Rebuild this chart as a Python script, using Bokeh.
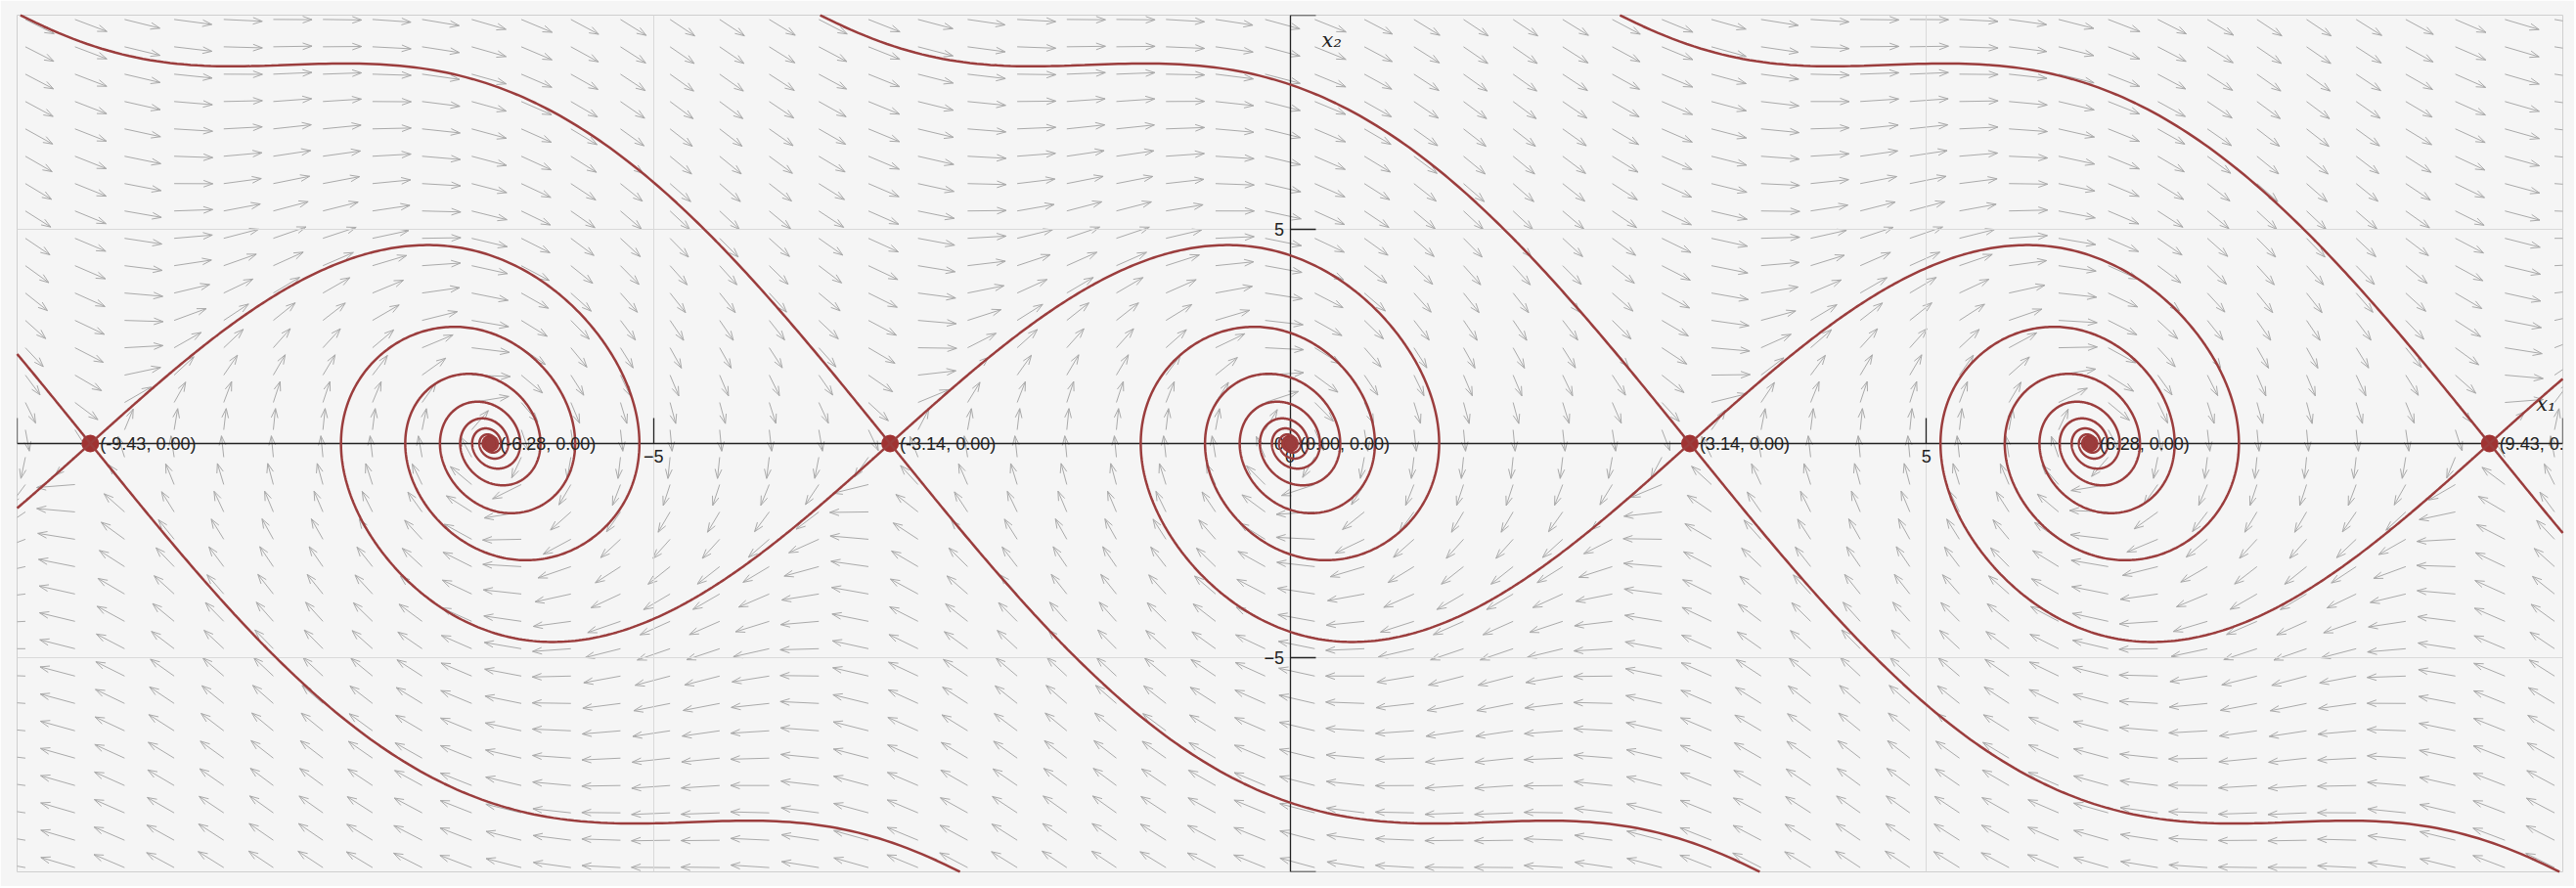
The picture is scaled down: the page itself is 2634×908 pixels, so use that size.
import math
import numpy as np
from bokeh.plotting import figure
from bokeh.models import Range1d, FixedTicker, ColumnDataSource, Label, LabelSet
from bokeh.embed import file_html
from bokeh.resources import INLINE
from bokeh.core.properties import value

# ---- system: damped pendulum x1' = x2, x2' = -g sin(x1) - b x2
g_coef = 9.81
b_coef = 1.0

# ---- fixed points shown in the chart
fixed_x1 = [-9.4248, -6.2832, -3.1416, 0.0, 3.1416, 6.2832, 9.4248]
fixed_x2 = [0.0, 0.0, 0.0, 0.0, 0.0, 0.0, 0.0]
fixed_kind = ["saddle", "center", "saddle", "center", "saddle", "center", "saddle"]
fixed_labels = ["(-9.43, 0.00)", "(-6.28, 0.00)", "(-3.14, 0.00)", "(0.00, 0.00)",
                "(3.14, 0.00)", "(6.28, 0.00)", "(9.43, 0.00)"]

# ---- direction-field grid
field_x1 = np.linspace(-9.935, 9.935, 52)
field_x2 = np.linspace(-9.9, 9.9, 32)
arrow_fill = 0.78

# ---- axis ticks
axis_ticks = [-10, -5, 0, 5, 10]
grid_ticks = [-5, 5]
tick_overrides = {-10: "", 10: ""}

X_MIN, X_MAX, Y_MIN, Y_MAX = -10, 10, -10, 10
FRAME_W, FRAME_H = 2603, 876


def rhs(a, c):
    return c, -g_coef * math.sin(a) - b_coef * c


def refine(x):
    # exact equilibrium of the system near x (sin x = 0)
    for _ in range(6):
        x -= math.sin(x) / math.cos(x)
    return x


def integrate(a, c, sign, t_max, dt=0.002, keep=3):
    xs, ys = [a], [c]
    h = dt * sign
    n = int(t_max / dt)
    for i in range(n):
        pa, pc = a, c
        k1a, k1c = rhs(a, c)
        k2a, k2c = rhs(a + 0.5 * h * k1a, c + 0.5 * h * k1c)
        k3a, k3c = rhs(a + 0.5 * h * k2a, c + 0.5 * h * k2c)
        k4a, k4c = rhs(a + h * k3a, c + h * k3c)
        a += h / 6.0 * (k1a + 2 * k2a + 2 * k3a + k4a)
        c += h / 6.0 * (k1c + 2 * k2c + 2 * k3c + k4c)
        if a < X_MIN or a > X_MAX or c < Y_MIN or c > Y_MAX:
            f = 1.0
            if a > X_MAX:
                f = min(f, (X_MAX - pa) / (a - pa))
            if a < X_MIN:
                f = min(f, (X_MIN - pa) / (a - pa))
            if c > Y_MAX:
                f = min(f, (Y_MAX - pc) / (c - pc))
            if c < Y_MIN:
                f = min(f, (Y_MIN - pc) / (c - pc))
            xs.append(pa)
            ys.append(pc)
            xs.append(pa + f * (a - pa))
            ys.append(pc + f * (c - pc))
            break
        if i % keep == 0:
            xs.append(a)
            ys.append(c)
    return xs, ys


# separatrices of every saddle
disc = math.sqrt(b_coef ** 2 + 4 * g_coef)
lam_u = (-b_coef + disc) / 2.0
lam_s = (-b_coef - disc) / 2.0
eps = 1e-6
traj = []
for fx, fy, kind in zip(fixed_x1, fixed_x2, fixed_kind):
    if kind != "saddle":
        continue
    ex = refine(fx)
    for lam, sign, tmax in ((lam_u, 1.0, 24.0), (lam_s, -1.0, 8.0)):
        nrm = math.hypot(1.0, lam)
        for s in (1.0, -1.0):
            a0 = ex + s * eps / nrm
            c0 = fy + s * eps * lam / nrm
            xs, ys = integrate(a0, c0, sign, tmax)
            traj.append(([ex] + xs, [fy] + ys))

# direction field arrows (direction of the flow, sized to the grid cell)
X1, X2 = np.meshgrid(field_x1, field_x2)
U = X2
V = -g_coef * np.sin(X1) - b_coef * X2
dxg = field_x1[1] - field_x1[0]
dyg = field_x2[1] - field_x2[0]
N = np.sqrt((U / dxg) ** 2 + (V / dyg) ** 2)
N[N == 0] = 1.0
x0 = X1.ravel()
y0 = X2.ravel()
xe = (X1 + arrow_fill * U / N).ravel()
ye = (X2 + arrow_fill * V / N).ravel()

# arrow heads built in screen space from the plot scale
sx = FRAME_W / (X_MAX - X_MIN)
sy = FRAME_H / (Y_MAX - Y_MIN)
dpx = (xe - x0) * sx
dpy = (ye - y0) * sy
L = np.hypot(dpx, dpy)
L[L == 0] = 1.0
ux, uy = dpx / L, dpy / L
head_len, head_w = 9.5, 3.4
bx1 = xe + (-head_len * ux - head_w * uy) / sx
by1 = ye + (-head_len * uy + head_w * ux) / sy
bx2 = xe + (-head_len * ux + head_w * uy) / sx
by2 = ye + (-head_len * uy - head_w * ux) / sy
head_xs = [[a, b, c] for a, b, c in zip(bx1, xe, bx2)]
head_ys = [[a, b, c] for a, b, c in zip(by1, ye, by2)]

BG = "#f5f5f5"
p = figure(x_range=Range1d(X_MIN, X_MAX), y_range=Range1d(Y_MIN, Y_MAX),
           frame_width=FRAME_W, frame_height=FRAME_H,
           min_border_left=17, min_border_right=12, min_border_top=15, min_border_bottom=15,
           output_backend="svg", toolbar_location=None)
p.background_fill_color = BG
p.border_fill_color = BG
p.outline_line_color = "#cfcfcf"
p.outline_line_width = 1

p.xgrid.ticker = FixedTicker(ticks=grid_ticks)
p.ygrid.ticker = FixedTicker(ticks=grid_ticks)
p.grid.grid_line_color = "#d9d9d9"
p.grid.grid_line_width = 1

for ax in (p.xaxis[0], p.yaxis[0]):
    ax.fixed_location = 0
    ax.ticker = FixedTicker(ticks=axis_ticks)
    ax.major_label_overrides = tick_overrides
    ax.minor_tick_line_color = None
    ax.major_tick_in = 26
    ax.major_tick_out = 0
    ax.axis_line_color = "#222222"
    ax.axis_line_width = 1.3
    ax.major_tick_line_color = "#222222"
    ax.major_tick_line_width = 1.3
    ax.major_label_text_font = "Liberation Sans"
    ax.major_label_text_font_size = "18px"
    ax.major_label_text_color = "#222222"
    ax.major_label_standoff = 6

ARROW_C = "#aaaaaa"
p.segment(x0=x0, y0=y0, x1=xe, y1=ye, line_color=ARROW_C, line_width=1, level="underlay")
p.multi_line(head_xs, head_ys, line_color=ARROW_C, line_width=1, level="underlay")

p.scatter(fixed_x1, fixed_x2, size=18, fill_color="#a03232", line_color=None,
          level="overlay")
for xs, ys in traj:
    p.line(xs, ys, line_color="#9b3d3d", line_width=2.5, level="overlay")

lab_src = ColumnDataSource(dict(x=fixed_x1, y=fixed_x2, t=fixed_labels))
p.add_layout(LabelSet(x="x", y="y", text="t", source=lab_src, x_offset=10,
                      text_baseline="middle", text_font=value("Liberation Sans"),
                      text_font_size="18px", text_color="#222222", level="overlay"))

p.add_layout(Label(x=0.25, y=9.42, text="x\u2082", text_font="DejaVu Serif",
                   text_font_style="italic", text_font_size="21px",
                   text_color="#222222", text_baseline="alphabetic"))
p.add_layout(Label(x=9.79, y=0.92, text="x\u2081", text_font="DejaVu Serif",
                   text_font_style="italic", text_font_size="21px",
                   text_color="#222222", text_baseline="alphabetic"))

html = file_html(p, INLINE)
html = html.replace("<body>", '<body style="background:#f5f5f5">', 1)
open("out.html", "w").write(html)
